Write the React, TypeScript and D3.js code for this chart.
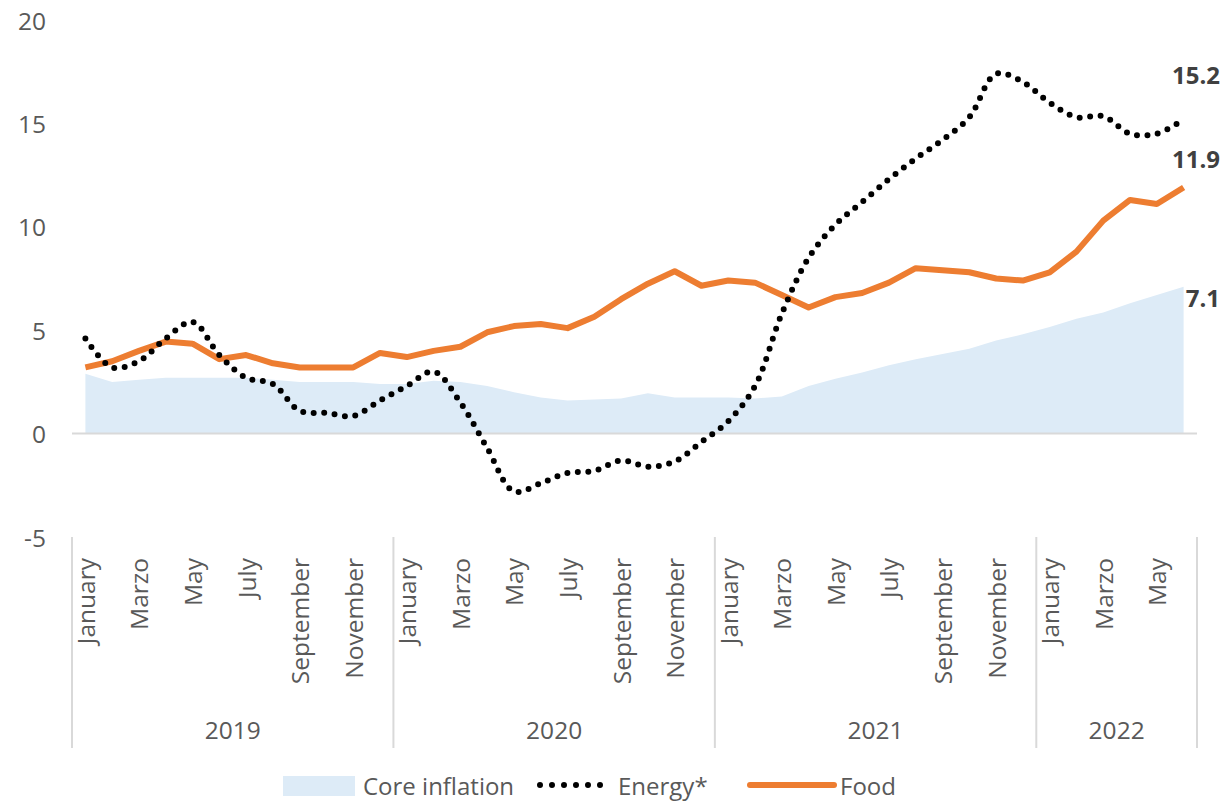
import React from "react";
import * as d3 from "d3";

const years = ["2019", "2020", "2021", "2022"];
const monthLabels = ["January", "", "Marzo", "", "May", "", "July", "", "September", "", "November", ""];
const monthsPerYear = [12, 12, 12, 6];

const core = [2.9, 2.5, 2.6, 2.7, 2.7, 2.7, 2.7, 2.6, 2.5, 2.5, 2.5, 2.4,
  2.4, 2.55, 2.5, 2.3, 2.0, 1.75, 1.6, 1.65, 1.7, 1.95, 1.75, 1.75,
  1.75, 1.7, 1.8, 2.3, 2.65, 2.95, 3.3, 3.6, 3.85, 4.1, 4.5, 4.8,
  5.15, 5.55, 5.85, 6.3, 6.7, 7.1];
const energy = [4.6, 3.2, 3.5, 4.6, 5.4, 3.8, 2.7, 2.4, 1.1, 1.0, 0.85, 1.6,
  2.3, 3.0, 1.5, -0.7, -2.8, -2.4, -1.9, -1.8, -1.3, -1.6, -1.35, -0.4,
  0.6, 2.3, 5.8, 8.5, 10.1, 11.2, 12.3, 13.3, 14.2, 15.3, 17.4, 17.0,
  16.0, 15.3, 15.35, 14.5, 14.5, 15.2];
const food = [3.2, 3.5, 4.0, 4.45, 4.35, 3.6, 3.8, 3.4, 3.2, 3.2, 3.2, 3.9,
  3.7, 4.0, 4.2, 4.9, 5.2, 5.3, 5.1, 5.65, 6.5, 7.25, 7.85, 7.15,
  7.4, 7.3, 6.7, 6.1, 6.6, 6.8, 7.3, 8.0, 7.9, 7.8, 7.5, 7.4,
  7.8, 8.8, 10.3, 11.3, 11.1, 11.9];
const yTicks = [-5, 0, 5, 10, 15, 20];
const seriesNames = ["Core inflation", "Energy*", "Food"];

const FONT = "'Open Sans', sans-serif";
const TEXT = "#595959";
const AREA = "#DDEBF7";
const ORANGE = "#ED7D31";
const GRID = "#D9D9D9";

export default function App() {
  const W = 1226, H = 801;
  const left = 72, right = 1197, top = 20, bottom = 537;
  const n = core.length;
  const idx = d3.range(n);
  const x = d3.scaleBand<number>().domain(idx).range([left, right]).padding(0);
  const cx = (i: number) => (x(i) as number) + x.bandwidth() / 2;
  const y = d3.scaleLinear().domain([-5, 20]).range([bottom, top]);

  const area = d3.area<number>().x((_, i) => cx(i)).y0(y(0)).y1((d) => y(d));
  const foodLine = d3.line<number>().x((_, i) => cx(i)).y((d) => y(d));
  const energyLine = d3.line<number>().x((_, i) => cx(i)).y((d) => y(d)).curve(d3.curveCatmullRom.alpha(0.5));

  const bounds: number[] = [0];
  monthsPerYear.forEach((m) => bounds.push(bounds[bounds.length - 1] + m));
  const bx = (k: number) => (k >= n ? right : (x(k) as number));

  const last = n - 1;
  const legY = 785;

  return (
    <svg width={W} height={H} style={{ position: "absolute", left: 0, top: 0, background: "#fff" }} fontFamily={FONT}>
      {yTicks.map((t) => (
        <text key={t} x={46} y={y(t)} textAnchor="end" dominantBaseline="central" fontSize={24.5} fill={TEXT}>{t}</text>
      ))}
      <path d={area(core) || ""} fill={AREA} />
      <line x1={left} x2={right} y1={y(0)} y2={y(0)} stroke={GRID} strokeWidth={2} />
      <path d={foodLine(food) || ""} fill="none" stroke={ORANGE} strokeWidth={6} strokeLinejoin="round" />
      <path d={energyLine(energy) || ""} fill="none" stroke="#000" strokeWidth={6} strokeDasharray="0 10.5" strokeLinecap="round" />
      {bounds.map((k) => (
        <line key={k} x1={bx(k)} x2={bx(k)} y1={bottom} y2={748} stroke={GRID} strokeWidth={2} />
      ))}
      {idx.map((i) => {
        let yi = 0, acc = 0;
        while (i >= acc + monthsPerYear[yi]) { acc += monthsPerYear[yi]; yi++; }
        const lab = monthLabels[i - acc];
        if (!lab) return null;
        return (
          <text key={i} transform={`translate(${cx(i)},558) rotate(-90)`} textAnchor="end" dominantBaseline="central" fontSize={24.5} fill={TEXT}>{lab}</text>
        );
      })}
      {years.map((yr, k) => (
        <text key={yr} x={(bx(bounds[k]) + bx(bounds[k + 1])) / 2} y={729} textAnchor="middle" dominantBaseline="central" fontSize={24.5} fill={TEXT}>{yr}</text>
      ))}
      <text x={1220} y={y(energy[last]) - 45} textAnchor="end" dominantBaseline="central" fontSize={24} fontWeight="bold" fill="#404040">{energy[last].toFixed(1)}</text>
      <text x={1220} y={y(food[last]) - 29} textAnchor="end" dominantBaseline="central" fontSize={24} fontWeight="bold" fill="#404040">{food[last].toFixed(1)}</text>
      <text x={1220} y={y(core[last]) + 11} textAnchor="end" dominantBaseline="central" fontSize={24} fontWeight="bold" fill="#404040">{core[last].toFixed(1)}</text>
      <rect x={283} y={776} width={72} height={20} fill={AREA} />
      <text x={363} y={legY} dominantBaseline="central" fontSize={24} fill={TEXT}>{seriesNames[0]}</text>
      <line x1={540} x2={612} y1={legY} y2={legY} stroke="#000" strokeWidth={6} strokeDasharray="0 12" strokeLinecap="round" />
      <text x={618} y={legY} dominantBaseline="central" fontSize={24} fill={TEXT}>{seriesNames[1]}</text>
      <line x1={750} x2={834} y1={legY} y2={legY} stroke={ORANGE} strokeWidth={6} strokeLinecap="round" />
      <text x={840} y={legY} dominantBaseline="central" fontSize={24} fill={TEXT}>{seriesNames[2]}</text>
    </svg>
  );
}
